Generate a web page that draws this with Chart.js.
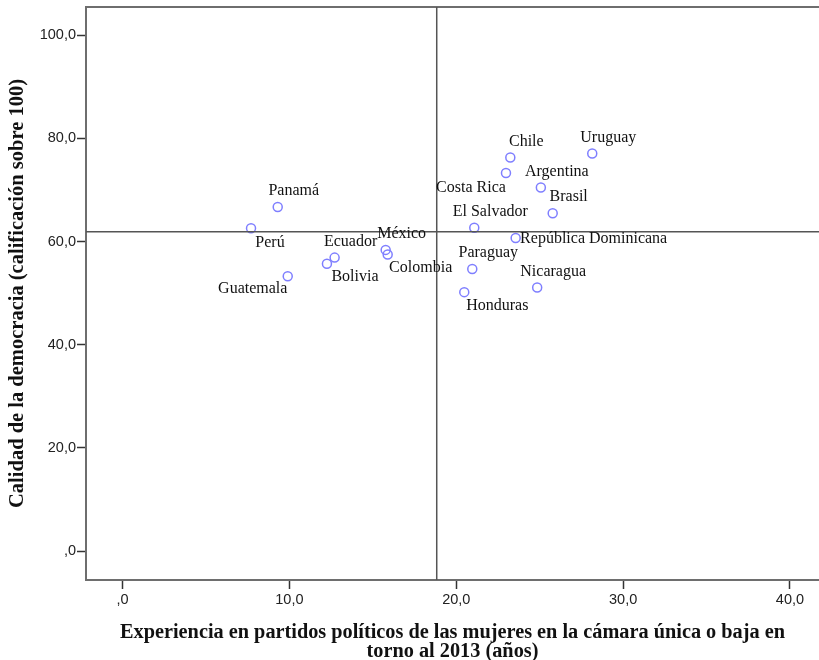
<!DOCTYPE html>
<html>
<head>
<meta charset="utf-8">
<script src="https://cdn.jsdelivr.net/npm/chart.js@4"></script>
<style>
  html, body { margin: 0; padding: 0; background: #fff; overflow: hidden; }
  canvas { display: block; }
</style>
</head>
<body>
<canvas id="scatter" width="819" height="660"></canvas>
<script>
// data
var countries = ['Panamá', 'Perú', 'Guatemala', 'Bolivia', 'Ecuador', 'México', 'Colombia',
    'El Salvador', 'Paraguay', 'Honduras', 'Costa Rica', 'Chile', 'Argentina', 'Brasil',
    'República Dominicana', 'Nicaragua', 'Uruguay'];
var experiencia = [9.30, 7.70, 9.90, 12.25, 12.71, 15.77, 15.89,
    21.08, 20.96, 20.48, 22.98, 23.24, 25.07, 25.78,
    23.56, 24.85, 28.15];
var calidad = [66.7, 62.6, 53.3, 55.7, 56.9, 58.4, 57.5,
    62.7, 54.7, 50.2, 73.3, 76.3, 70.5, 65.5,
    60.7, 51.1, 77.1];
var meanX = 18.83;
var meanY = 61.9;
var xTicks = [0, 10, 20, 30, 40];
var xTickLabels = [',0', '10,0', '20,0', '30,0', '40,0'];
var yTicks = [0, 20, 40, 60, 80, 100];
var yTickLabels = [',0', '20,0', '40,0', '60,0', '80,0', '100,0'];

// where each label sits relative to its point (px), default is up-right
var labelOffsets = {
    'Perú': [19, 15],
    'Guatemala': [-35, 13],
    'Bolivia': [28, 13],
    'Colombia': [33, 13],
    'Costa Rica': [-35, 15],
    'Honduras': [33, 14],
    'República Dominicana': [78, 1]
};

var points = experiencia.map(function (x, i) { return {x: x, y: calidad[i]}; });

var serif = '"Liberation Serif", "Times New Roman", serif';
var sans = '"Liberation Sans", Arial, sans-serif';
var frameColor = '#6e6e6e';

var pointLabels = {
    id: 'pointLabels',
    afterDatasetsDraw: function (chart) {
        var c = chart.ctx;
        var meta = chart.getDatasetMeta(2);
        c.save();
        c.font = '16px ' + serif;
        c.fillStyle = '#111';
        c.textAlign = 'center';
        c.textBaseline = 'middle';
        meta.data.forEach(function (el, i) {
            var off = labelOffsets[countries[i]] || [16, -16];
            c.fillText(countries[i], el.x + off[0], el.y + off[1]);
        });
        c.restore();
    }
};

var topFrame = {
    id: 'topFrame',
    beforeDatasetsDraw: function (chart) {
        var a = chart.chartArea;
        var c = chart.ctx;
        c.save();
        c.strokeStyle = frameColor;
        c.lineWidth = 2;
        c.beginPath();
        c.moveTo(a.left, a.top);
        c.lineTo(a.right, a.top);
        c.stroke();
        c.restore();
    }
};

var ctx = document.getElementById('scatter').getContext('2d');
var myChart = new Chart(ctx, {
    type: 'scatter',
    data: {
        datasets: [{
                type: 'line',
                data: [{x: meanX, y: -20}, {x: meanX, y: 120}],
                borderColor: '#555',
                borderWidth: 1.5,
                pointRadius: 0
            }, {
                type: 'line',
                data: [{x: -10, y: meanY}, {x: 50, y: meanY}],
                borderColor: '#555',
                borderWidth: 1.5,
                pointRadius: 0
            }, {
                data: points,
                pointRadius: 4.5,
                pointHoverRadius: 4.5,
                borderWidth: 1.5,
                borderColor: '#7f7fff',
                backgroundColor: 'rgba(255,255,255,0)'
            }]
    },
    options: {
        responsive: false,
        animation: false,
        layout: {autoPadding: false, padding: {top: 7, left: 0, right: 0, bottom: 0}},
        scales: {
            x: {
                type: 'linear',
                min: -2.19,
                max: 41.74,
                afterFit: function (s) {
                    s.height = 80;
                    s.paddingLeft = 0;
                    s.paddingRight = 0;
                },
                afterBuildTicks: function (s) { s.ticks = xTicks.map(function (v) { return {value: v}; }); },
                ticks: {
                    callback: function (v) { return xTickLabels[xTicks.indexOf(v)]; },
                    font: {family: sans, size: 14.5},
                    color: '#222',
                    padding: 2,
                    maxRotation: 0
                },
                grid: {drawOnChartArea: false, tickLength: 9, color: '#333', tickWidth: 1.5},
                border: {color: frameColor, width: 2},
                title: {
                    display: true,
                    text: ['Experiencia en partidos políticos de las mujeres en la cámara única o baja en', 'torno al 2013 (años)'],
                    font: {family: serif, size: 20.3, weight: 'bold', lineHeight: '19px'},
                    color: '#111',
                    padding: {top: 0, bottom: -1}
                }
            },
            y: {
                min: -5.62,
                max: 105.5,
                afterFit: function (s) {
                    s.width = 86;
                    s.paddingTop = 0;
                    s.paddingBottom = 0;
                },
                afterBuildTicks: function (s) { s.ticks = yTicks.map(function (v) { return {value: v}; }); },
                ticks: {
                    callback: function (v) { return yTickLabels[yTicks.indexOf(v)]; },
                    font: {family: sans, size: 14.5},
                    color: '#222',
                    padding: 1
                },
                grid: {drawOnChartArea: false, tickLength: 9, color: '#333', tickWidth: 1.5},
                border: {color: frameColor, width: 2},
                title: {
                    display: true,
                    text: 'Calidad de la democracia (calificación sobre 100)',
                    font: {family: serif, size: 20.5, weight: 'bold', lineHeight: 1.1},
                    color: '#111',
                    padding: {top: 6, bottom: 0}
                }
            }
        },
        plugins: {
            legend: {display: 0},
            tooltip: {enabled: false}
        }
    },
    plugins: [topFrame, pointLabels]
});
</script>
</body>
</html>
